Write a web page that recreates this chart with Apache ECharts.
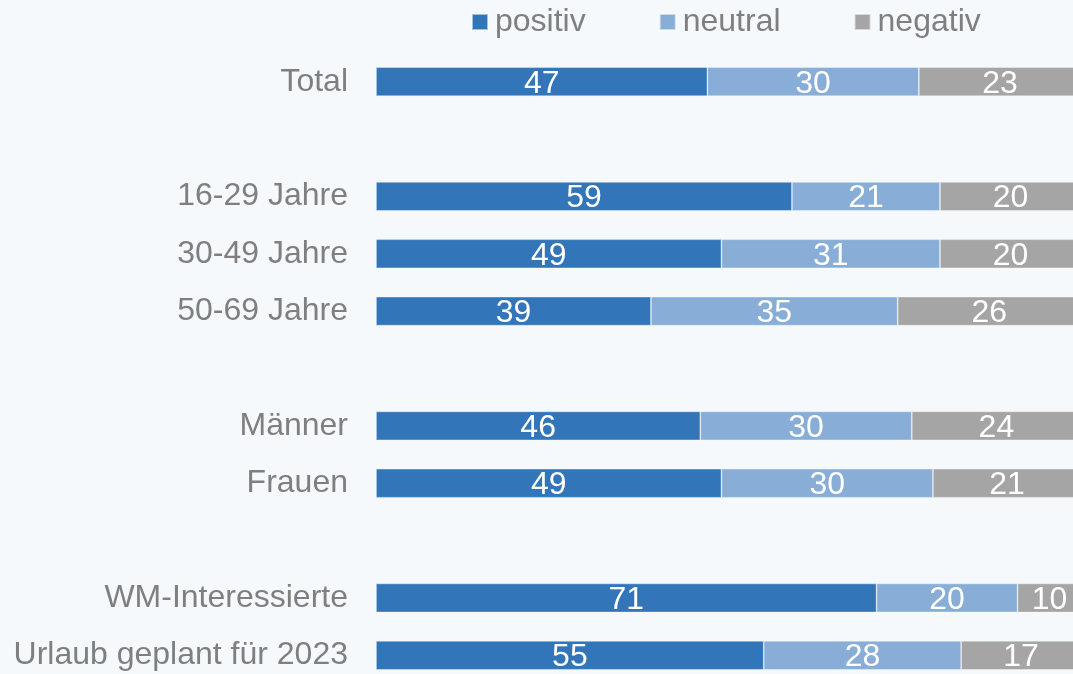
<!DOCTYPE html>
<html>
<head>
<meta charset="utf-8">
<script src="https://cdn.jsdelivr.net/npm/echarts@6/dist/echarts.min.js"></script>
<style>
html,body{margin:0;padding:0;background:#F5F9FC;}
#c{width:1073px;height:674px;}
</style>
</head>
<body>
<div id="c"></div>
<script>
const categories = ['Total', ' ', '16-29 Jahre', '30-49 Jahre', '50-69 Jahre', '  ', 'Männer', 'Frauen', '   ', 'WM-Interessierte', 'Urlaub geplant für 2023'];
const positiv = [47, null, 59, 49, 39, null, 46, 49, null, 71, 55];
const neutral = [30, null, 21, 31, 35, null, 30, 30, null, 20, 28];
const negativ = [23, null, 20, 20, 26, null, 24, 21, null, 10, 17];
const seriesNames = ['positiv', 'neutral', 'negativ'];
const colors = ['#3276B9', '#88AED8', '#A5A5A5'];

const font = 'Liberation Sans, Arial, sans-serif';
const chart = echarts.init(document.getElementById('c'), null, {renderer: 'canvas'});
const mk = (name, data, color) => ({
  name, type: 'bar', stack: 'all', data, barWidth: 29,
  itemStyle: {color, borderColor: 'rgba(255,255,255,0.55)', borderWidth: 0.7},
  label: {show: true, position: 'inside', color: '#fff', fontSize: 32, fontFamily: font, offset: [0, 2]},
  emphasis: {disabled: true}
});
chart.setOption({
  backgroundColor: '#F5F9FC',
  animation: false,
  color: colors,
  legend: {
    data: seriesNames, left: 471, top: 6, padding: 0, itemWidth: 16, itemHeight: 16, itemGap: 73,
    icon: 'rect',
    textStyle: {color: '#7F7F7F', fontSize: 32, fontFamily: font, padding: [3, 0, 0, 2]}
  },
  grid: {left: 376, top: 53, width: 705, height: 631, containLabel: false, outerBoundsMode: 'none'},
  xAxis: {type: 'value', min: 0, max: 100, show: false},
  yAxis: {
    type: 'category', data: categories, inverse: true,
    axisLine: {show: false}, axisTick: {show: false},
    axisLabel: {color: '#7F7F7F', fontSize: 32, fontFamily: font, margin: 28, padding: [4, 0, 0, 0]}
  },
  series: [mk('positiv', positiv, colors[0]), mk('neutral', neutral, colors[1]), mk('negativ', negativ, colors[2])]
});
</script>
</body>
</html>
